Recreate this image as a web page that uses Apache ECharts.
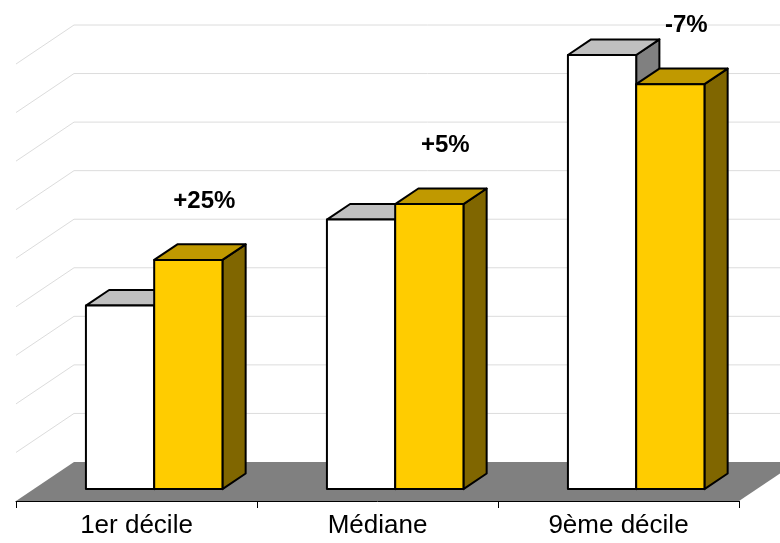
<!DOCTYPE html>
<html>
<head>
<meta charset="utf-8">
<script src="https://cdn.jsdelivr.net/npm/echarts@6.0.0/dist/echarts.min.js"></script>
<style>
  html, body { margin: 0; padding: 0; background: #fff; }
</style>
</head>
<body>
<div id="main" style="width:780px;height:543px"></div>

<script type="text/javascript">
// data (no unit shown on the value axis)
var categories = ['1er décile', 'Médiane', '9ème décile'];
var firstValues = [3.78, 5.55, 8.94];     // white bars
var secondValues = [4.72, 5.87, 8.34];    // yellow bars
var changeLabels = ['+25%', '+5%', '-7%'];
var valueTicks = [0, 1, 2, 3, 4, 5, 6, 7, 8, 9];

var dom = document.getElementById('main');
var myChart = echarts.init(dom);
var option = null;

// fake 3D : depth vector of the floor (full depth) in px
var DX = 58, DY = -39;
var Z0 = 0.305;      // front of the bars
var BD = 0.4;        // depth of the bars
var PAIR = 0.5665;   // share of the band used by the 2 bars

function toSeriesData(values) {
	var out = [];
	for (var i = 0; i < values.length; i++) {
		out.push([i, values[i]]);
	}
	return out;
}

function renderWalls(params, api) {
	var cs = params.coordSys;
	var x0 = cs.x, x1 = cs.x + cs.width;
	var y0 = api.coord([0, 0])[1];
	var children = [];
	// floor
	children.push({
		type: 'polygon',
		shape: { points: [[x0, y0], [x1, y0], [x1 + DX, y0 + DY], [x0 + DX, y0 + DY]] },
		style: { fill: '#808080', stroke: null }
	});
	// grid lines on back wall and left wall
	for (var i = 1; i < valueTicks.length; i++) {
		var y = api.coord([0, valueTicks[i]])[1];
		children.push({
			type: 'polyline',
			shape: { points: [[x0, y], [x0 + DX, y + DY], [x1 + DX + 60, y + DY]] },
			style: { fill: null, stroke: '#dcdcdc', lineWidth: 1 }
		});
	}
	return { type: 'group', children: children };
}

function makeBarRenderer(slot, front, top, side, withLabel) {
	return function (params, api) {
		var cat = api.value(0);
		var v = api.value(1);
		var band = api.size([1, 0])[0];
		var base = api.coord([cat, 0]);
		var tp = api.coord([cat, v]);
		var pairW = band * PAIR;
		var w = pairW / 2;
		var xl = base[0] - pairW / 2 + slot * w + Z0 * DX;
		var yb = base[1] + Z0 * DY;
		var yt = tp[1] + Z0 * DY;
		var bx = BD * DX, by = BD * DY;
		var line = { stroke: '#000', lineWidth: 2, lineJoin: 'round' };
		var children = [
			{
				type: 'polygon',
				shape: { points: [[xl + w, yt], [xl + w + bx, yt + by], [xl + w + bx, yb + by], [xl + w, yb]] },
				style: echarts.util.extend({ fill: side }, line)
			},
			{
				type: 'polygon',
				shape: { points: [[xl, yt], [xl + w, yt], [xl + w + bx, yt + by], [xl + bx, yt + by]] },
				style: echarts.util.extend({ fill: top }, line)
			},
			{
				type: 'rect',
				shape: { x: xl, y: yt, width: w, height: yb - yt },
				style: echarts.util.extend({ fill: front }, line)
			}
		];
		if (withLabel) {
			children.push({
				type: 'text',
				x: xl + w / 2 + 16,
				y: yt - 59,
				style: {
					text: changeLabels[params.dataIndex],
					fill: '#000',
					font: 'bold 24px "Liberation Sans", Arial, sans-serif',
					align: 'center',
					verticalAlign: 'middle'
				}
			});
		}
		return { type: 'group', children: children };
	};
}

option = {
	animation: false,
	backgroundColor: '#fff',
	grid: {
		left: 16,
		right: 41,
		top: 64,
		bottom: 42
	},
	xAxis: {
		type: 'category',
		data: categories,
		z: 10,
		axisLine: { lineStyle: { color: '#000', width: 1 } },
		axisTick: { show: true, length: 7, lineStyle: { color: '#000' } },
		axisLabel: {
			color: '#000',
			fontSize: 26,
			fontFamily: '"Liberation Sans", Arial, sans-serif',
			margin: 12
		}
	},
	yAxis: {
		type: 'value',
		min: 0,
		max: 9,
		interval: 1,
		show: false,
		splitLine: { show: false }
	},
	series: [
		{
			type: 'custom',
			name: 'walls',
			clip: false,
			silent: true,
			data: [[0, 0]],
			renderItem: renderWalls
		},
		{
			type: 'custom',
			name: 'avant',
			clip: false,
			data: toSeriesData(firstValues),
			renderItem: makeBarRenderer(0, '#ffffff', '#c0c0c0', '#808080', false)
		},
		{
			type: 'custom',
			name: 'après',
			clip: false,
			data: toSeriesData(secondValues),
			renderItem: makeBarRenderer(1, '#ffcc00', '#c09900', '#806600', true)
		}
	]
};

if (option && typeof option === "object") {
	myChart.setOption(option, true);
}
</script>
</body>
</html>
